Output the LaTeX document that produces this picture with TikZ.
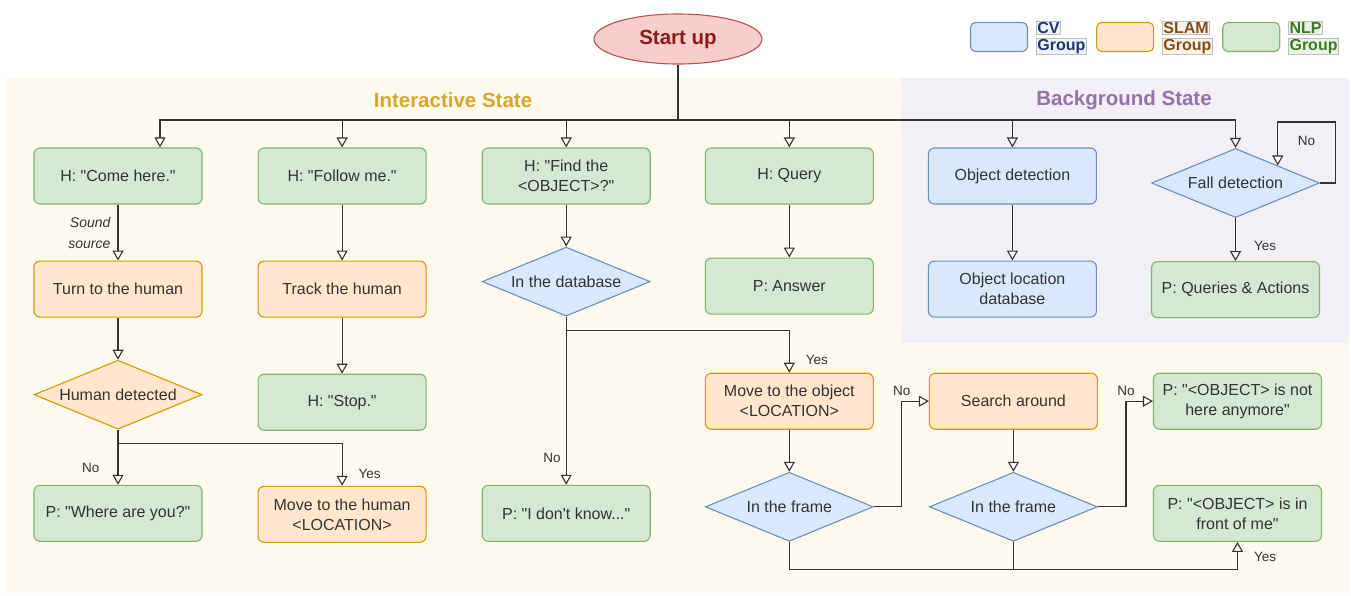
\documentclass[tikz,border=0pt]{standalone}
\usepackage{fontspec}
\setmainfont{Liberation Sans}[Ligatures=TeXOff]
\usepackage{xcolor}
\usepackage{tikz}
\usetikzlibrary{arrows.meta,positioning,shapes.geometric}

\definecolor{nlpfill}{HTML}{D5E8D4}
\definecolor{nlpline}{HTML}{82B366}
\definecolor{slamfill}{HTML}{FFE6CC}
\definecolor{slamline}{HTML}{D79B00}
\definecolor{cvfill}{HTML}{DAE8FC}
\definecolor{cvline}{HTML}{6C8EBF}
\definecolor{startfill}{HTML}{F8CECC}
\definecolor{startline}{HTML}{B85450}
\definecolor{starttext}{HTML}{8F1A1A}
\definecolor{intbg}{HTML}{FDF9EE}
\definecolor{bgbg}{HTML}{F2EFF6}
\definecolor{inttitle}{HTML}{D9A62E}
\definecolor{bgtitle}{HTML}{9673A6}
\definecolor{cvtext}{HTML}{1F3864}
\definecolor{slamtext}{HTML}{7F4F21}
\definecolor{nlptext}{HTML}{3D7A1E}
\definecolor{textgray}{HTML}{333333}

\begin{document}
\begin{tikzpicture}[
  x=1pt, y=-1pt,
  box/.style={rounded corners=6pt, line width=1.1pt, minimum width=168pt, minimum height=56pt, inner sep=2pt, align=center, text=textgray, font=\fontsize{16}{20}\selectfont},
  nlp/.style={box, draw=nlpline, fill=nlpfill},
  slam/.style={box, draw=slamline, fill=slamfill},
  cv/.style={box, draw=cvline, fill=cvfill},
  decide/.style={diamond, aspect=2.4, line width=1.1pt, minimum width=168pt, minimum height=69pt, inner sep=0pt, align=center, text=textgray, font=\fontsize{16}{20}\selectfont},
  cvdec/.style={decide, draw=cvline, fill=cvfill},
  slamdec/.style={decide, draw=slamline, fill=slamfill},
  start/.style={ellipse, draw=startline, fill=startfill, line width=1.1pt, minimum width=168pt, minimum height=50pt, inner sep=0pt, text=starttext, font=\fontsize{20.5}{24}\selectfont\bfseries},
  title/.style={font=\fontsize{20.5}{24}\selectfont\bfseries},
  legkey/.style={rounded corners=5pt, line width=1.1pt, minimum width=57pt, minimum height=29pt},
  legtxt/.style={draw=black!25, line width=0.6pt, inner sep=1pt, font=\fontsize{16}{18}\selectfont\bfseries},
  lbl/.style={inner sep=2pt, text=textgray, font=\fontsize{13.5}{16}\selectfont},
  line/.style={line width=1.1pt, draw=textgray},
  arrow/.style={line, -{Triangle[fill=white, length=10pt, width=11pt]}}
]
\useasboundingbox (0,0) rectangle (1351,595);
\fill[intbg] (5,78) rectangle (1349,593);
\fill[bgbg] (901,78) rectangle (1349,343);

\node[title, text=inttitle] (inttxt) at (453,100) {Interactive State};
\node[title, text=bgtitle] (bgtxt) at (1124,100) {Background State};

\node[start] (start) at (678,39) {Start up};

% legend
\node[legkey, draw=cvline, fill=cvfill] (cvkey) at (999,37) {};
\node[legkey, draw=slamline, fill=slamfill, right=68pt of cvkey] (slamkey) {};
\node[legkey, draw=nlpline, fill=nlpfill, right=68pt of slamkey] (nlpkey) {};
\node[legtxt, text=cvtext, fill=cvfill!50, anchor=south west] (cvtop) at ([xshift=8pt, yshift=2pt]cvkey.east) {CV};
\node[legtxt, text=cvtext, fill=cvfill!50, anchor=north west] (cvbot) at ([xshift=8pt, yshift=-1pt]cvkey.east) {Group};
\node[legtxt, text=slamtext, fill=slamfill!50, anchor=south west] (slamtop) at ([xshift=8pt, yshift=2pt]slamkey.east) {SLAM};
\node[legtxt, text=slamtext, fill=slamfill!50, anchor=north west] (slambot) at ([xshift=8pt, yshift=-1pt]slamkey.east) {Group};
\node[legtxt, text=nlptext, fill=nlpfill!50, anchor=south west] (nlptop) at ([xshift=8pt, yshift=2pt]nlpkey.east) {NLP};
\node[legtxt, text=nlptext, fill=nlpfill!50, anchor=north west] (nlpbot) at ([xshift=8pt, yshift=-1pt]nlpkey.east) {Group};

\node[nlp] (come) at (118,176) {H: "Come here."};
\node[nlp, right=55pt of come] (follow) {H: "Follow me."};
\node[nlp, right=55pt of follow] (find) {H: "Find the\\<OBJECT>?"};
\node[nlp, right=54pt of find] (query) {H: Query};
\node[cv, right=54pt of query] (objdet) {Object detection};
\node[cvdec, right=54pt of objdet, yshift=-7pt] (fall) {Fall detection};

\node[slam, below=56pt of come] (turn) {Turn to the human};
\node[slam, below=56pt of follow] (track) {Track the human};
\node[cvdec, below=42pt of find] (db) {In the database};
\node[nlp, below=53pt of query] (answer) {P: Answer};
\node[cv, below=56pt of objdet] (objloc) {Object location\\database};
\node[nlp, below=43pt of fall] (queries) {P: Queries \& Actions};

\node[slamdec, below=42pt of turn] (human) {Human detected};
\node[nlp, below=56pt of track] (stop) {H: "Stop."};
\node[slam, below=58pt of answer] (mvobj) {Move to the object\\<LOCATION>};
\node[slam, right=55pt of mvobj] (search) {Search around};
\node[nlp, right=55pt of search] (gone) {P: "<OBJECT> is not\\here anymore"};

\node[nlp, below=55pt of human] (where) {P: "Where are you?"};
\node[slam, below=55pt of stop] (mvhum) {Move to the human\\<LOCATION>};
\node[nlp] (dontknow) at (db |- where) {P: "I don't know..."};
\node[cvdec, below=42pt of mvobj] (frame1) {In the frame};
\node[cvdec, below=42pt of search] (frame2) {In the frame};
\node[nlp] (front) at (gone |- where) {P: "<OBJECT> is in\\front of me"};

\coordinate (bus) at (678,120);
\draw[line] (start) -- (bus);
\draw[arrow] (bus) -| ([xshift=42pt]come.north);
\foreach \n in {follow,find,query,objdet,fall}
  \draw[arrow] (bus) -| (\n);

\draw[arrow] (come) -- node[lbl, left=5pt, align=right, font=\fontsize{14}{21}\selectfont\itshape] {Sound\\source} (turn);
\draw[arrow] (turn) -- (human);
\draw[arrow] (human) -- node[lbl, pos=0.7, left=16pt] {No} (where);
\draw[arrow] (human.south) -- ++(0,14) -| node[lbl, pos=0.86, right=14pt] {Yes} (mvhum);

\draw[arrow] (follow) -- (track);
\draw[arrow] (track) -- (stop);

\draw[arrow] (find) -- (db);
\draw[arrow] (db) -- node[lbl, pos=0.84, left=3pt] {No} (dontknow);
\draw[arrow] (db.south) -- ++(0,14) -| node[lbl, pos=0.85, right=14pt] {Yes} (mvobj);

\draw[arrow] (query) -- (answer);
\draw[arrow] (mvobj) -- (frame1);
\draw[arrow] (frame1.east) -- ++(28,0) |- node[lbl, pos=0.5, above=3pt] {No} (search);
\draw[arrow] (search) -- (frame2);
\draw[arrow] (frame2.east) -- ++(28,0) |- node[lbl, pos=0.5, above=3pt] {No} (gone);

\coordinate (join) at ([yshift=-28pt]frame1.south);
\draw[arrow] (frame1) -- (join) -| node[lbl, pos=0.73, right=14pt] {Yes} (front);
\draw[line] (frame2) -- (frame2 |- join);

\draw[arrow] (objdet) -- (objloc);
\draw[arrow] (fall) -- node[lbl, pos=0.65, right=16pt] {Yes} (queries);
\draw[arrow] (fall.east) -- ++(15,0) -- ++(0,-61) -| node[lbl, pos=0.25, below=12pt] {No} (fall.north east);

\end{tikzpicture}
\end{document}
